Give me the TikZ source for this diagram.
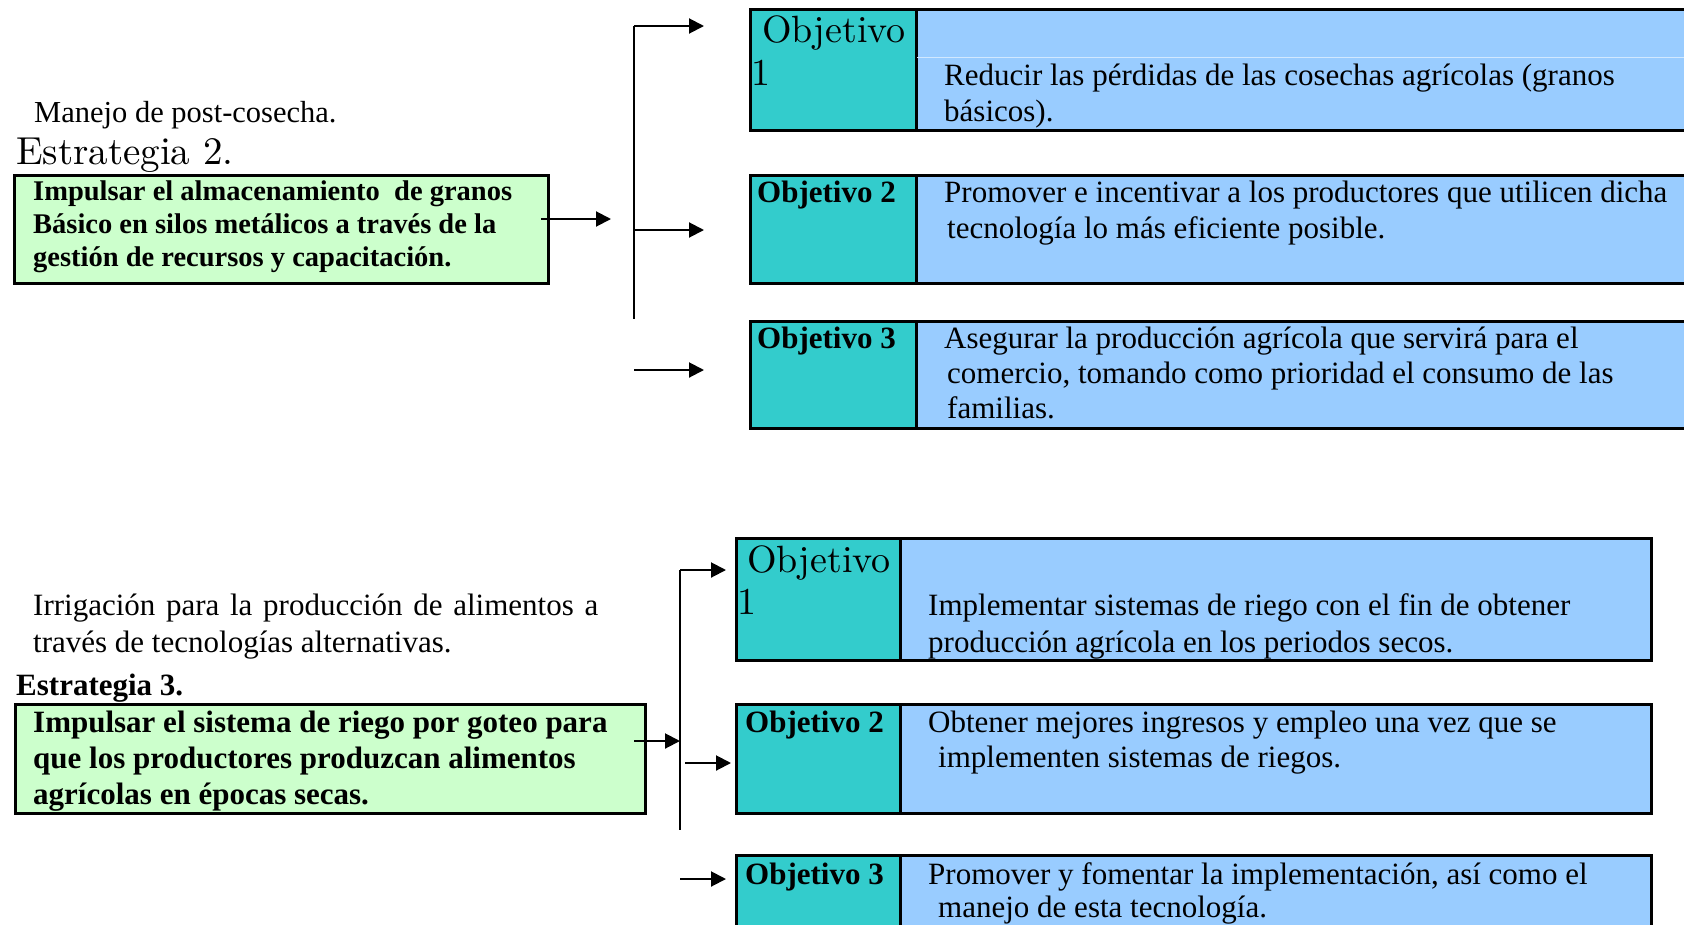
\documentclass[tikz,border=0pt]{standalone}
\usepackage{fontspec}
\setmainfont{Liberation Serif}
\newfontfamily\lmfont{lmroman10-regular}[Extension=.otf]
\usetikzlibrary{arrows.meta}
\definecolor{tealc}{HTML}{33CCCC}
\definecolor{bluec}{HTML}{99CCFF}
\definecolor{greenc}{HTML}{CCFFCC}
\tikzset{
  box/.style={draw=black, line width=3pt, rectangle, inner sep=0pt, anchor=north west},
  tealbox/.style={box, fill=tealc},
  bluebox/.style={box, fill=bluec},
  greenbox/.style={draw=black, line width=2.5pt, fill=greenc, rectangle, inner sep=0pt, anchor=north west},
  txt/.style={anchor=base west, inner sep=0pt, font=\fontsize{31}{36}\selectfont},
  btxt/.style={anchor=base west, inner sep=0pt, font=\fontsize{31}{36}\selectfont\bfseries},
  gtxt/.style={anchor=base west, inner sep=0pt, font=\fontsize{28.5}{33}\selectfont\bfseries},
  lmtxt/.style={anchor=base west, inner sep=0pt, font=\fontsize{38}{42}\lmfont},
  arr/.style={line width=2pt, -{Triangle[length=15pt,width=15pt]}},
  ln/.style={line width=2pt},
}
\begin{document}
\begin{tikzpicture}[x=1pt,y=-1pt]
\clip (0,0) rectangle (1684,924);
\fill[white] (0,0) rectangle (1684,924);

% ---------- Top section ----------
\node[txt, font=\fontsize{30.5}{36}\selectfont] (manejo) at (34,122) {Manejo de post-cosecha.};
\node[lmtxt, font=\fontsize{39}{42}\lmfont] (est2) at (16,164) {Estrategia 2.};
\node[greenbox, minimum width=534pt, minimum height=108pt] (g1) at (13,174) {};
\node[gtxt] (g1a) at (33,200) {Impulsar el almacenamiento\ \ de granos};
\node[gtxt] (g1b) at (33,233) {Básico en silos metálicos a través de la};
\node[gtxt] (g1c) at (33,266) {gestión de recursos y capacitación.};

% objective boxes top
\node[bluebox, minimum width=790pt, minimum height=121pt] (b1) at (915,8) {};
\node[tealbox, minimum width=166pt, minimum height=121pt] (t1) at (749,8) {};
\draw[white!55!bluec, line width=1pt] (917,57) -- (1684,57);
\node[bluebox, minimum width=790pt, minimum height=108pt] (b2) at (915,174) {};
\node[tealbox, minimum width=166pt, minimum height=108pt] (t2) at (749,174) {};
\node[bluebox, minimum width=790pt, minimum height=107pt] (b3) at (915,320) {};
\node[tealbox, minimum width=166pt, minimum height=107pt] (t3) at (749,320) {};

\node[lmtxt] (o1a) at (762,42) {Objetivo};
\node[lmtxt] (o1b) at (751,85) {1};
\node[txt] (r1a) at (944,85) {Reducir las pérdidas de las cosechas agrícolas (granos};
\node[txt] (r1b) at (944,121) {básicos).};
\node[btxt] (o2) at (757,202) {Objetivo 2};
\node[txt] (r2a) at (944,202) {Promover e incentivar a los productores que utilicen dicha};
\node[txt] (r2b) at (947,238) {tecnología lo más eficiente posible.};
\node[btxt] (o3) at (757,348) {Objetivo 3};
\node[txt] (r3a) at (944,348) {Asegurar la producción agrícola que servirá para el};
\node[txt] (r3b) at (947,383) {comercio, tomando como prioridad el consumo de las};
\node[txt] (r3c) at (947,418) {familias.};

% connectors top
\coordinate (ga) at (541,219);
\coordinate (gb) at (611,219);
\coordinate (s1t) at (634,26);
\coordinate (s1m) at (634,230);
\coordinate (s1b) at (634,319);
\coordinate (e1) at (704,26);
\coordinate (e2) at (704,230);
\coordinate (f3a) at (634,370);
\coordinate (f3b) at (704,370);
\draw[arr] (ga) -- (gb);
\draw[ln] (s1t) -- (s1b);
\draw[arr] (s1t) -- (e1);
\draw[arr] (s1m) -- (e2);
\draw[arr] (f3a) -- (f3b);

% ---------- Bottom section ----------
\node[txt] (irr1) at (33,615) {\makebox[565pt][s]{Irrigación para la producción de alimentos a}};
\node[txt] (irr2) at (33,652) {través de tecnologías alternativas.};
\node[btxt] (est3) at (16,695) {Estrategia 3.};
\node[greenbox, minimum width=630pt, minimum height=109pt] (g2) at (14,703) {};
\node[btxt] (g2a) at (33,732) {Impulsar el sistema de riego por goteo para};
\node[btxt] (g2b) at (33,768) {que los productores produzcan alimentos};
\node[btxt] (g2c) at (33,804) {agrícolas en épocas secas.};

\node[bluebox, minimum width=751pt, minimum height=122pt] (b4) at (899,537) {};
\node[tealbox, minimum width=164pt, minimum height=122pt] (t4) at (735,537) {};
\node[bluebox, minimum width=751pt, minimum height=109pt] (b5) at (899,703) {};
\node[tealbox, minimum width=164pt, minimum height=109pt] (t5) at (735,703) {};
\node[bluebox, minimum width=751pt, minimum height=100pt] (b6) at (899,854) {};
\node[tealbox, minimum width=164pt, minimum height=100pt] (t6) at (735,854) {};

\node[lmtxt] (o4a) at (747,572) {Objetivo};
\node[lmtxt] (o4b) at (737,614) {1};
\node[txt] (r4a) at (928,615) {Implementar sistemas de riego con el fin de obtener};
\node[txt] (r4b) at (928,652) {producción agrícola en los periodos secos.};
\node[btxt] (o5) at (745,732) {Objetivo 2};
\node[txt] (r5a) at (928,732) {Obtener mejores ingresos y empleo una vez que se};
\node[txt] (r5b) at (938,767) {implementen sistemas de riegos.};
\node[btxt] (o6) at (745,884) {Objetivo 3};
\node[txt] (r6a) at (928,884) {Promover y fomentar la implementación, así como el};
\node[txt] (r6b) at (938,917) {manejo de esta tecnología.};

% connectors bottom
\coordinate (ha) at (634,741);
\coordinate (hb) at (680,741);
\coordinate (s2t) at (680,570);
\coordinate (s2b) at (680,830);
\coordinate (k1) at (726,570);
\coordinate (m2a) at (685,763);
\coordinate (m2b) at (731,763);
\coordinate (n3a) at (680,879);
\coordinate (n3b) at (726,879);
\draw[ln] (s2t) -- (s2b);
\draw[arr] (ha) -- (hb);
\draw[arr] (s2t) -- (k1);
\draw[arr] (m2a) -- (m2b);
\draw[arr] (n3a) -- (n3b);
\end{tikzpicture}
\end{document}
